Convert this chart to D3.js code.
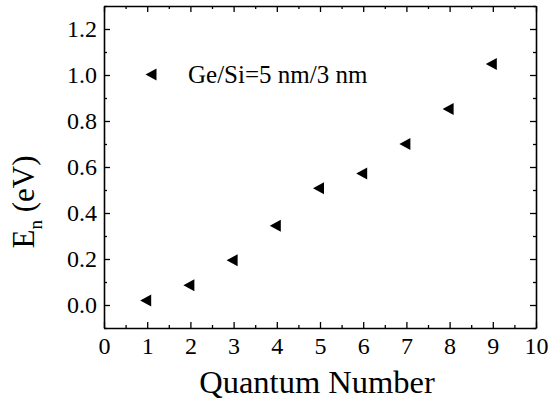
<!DOCTYPE html>
<html><head><meta charset="utf-8">
<script src="https://cdn.jsdelivr.net/npm/d3@7"></script>
<style>body{margin:0;background:#fff}svg{display:block}svg text{font-family:"Liberation Serif","Times New Roman",serif !important;fill:#000}</style>
</head><body>
<svg id="c" width="550" height="402"></svg>
<script>
const quantumNumbers = [1,2,3,4,5,6,7,8,9];
const energies = [0.02,0.086,0.195,0.345,0.508,0.572,0.70,0.852,1.048];
const xTicks = [0,1,2,3,4,5,6,7,8,9,10];
const yTicks = [0.0,0.2,0.4,0.6,0.8,1.0,1.2];
const legendLabel = "Ge/Si=5 nm/3 nm";

const svg = d3.select("#c");
const L=104,R=536,T=6,B=328;
const x = d3.scaleLinear().domain([0,10]).range([L,R]);
const y = d3.scaleLinear().domain([-0.1,1.3]).range([B,T]);

const xMinor = d3.range(0,10.01,0.5).filter(v=>Math.abs(v-Math.round(v))>0.01);
const yMinor = d3.range(-0.1,1.31,0.1).map(v=>+v.toFixed(2)).filter(v=>Math.abs(v*5-Math.round(v*5))>0.01);

function styleAxis(g){g.attr("font-family",null);g.selectAll("path").attr("stroke","#000").attr("stroke-width",1.6);g.selectAll("line").attr("stroke","#000").attr("stroke-width",1.3);}

// bottom
svg.append("g").attr("transform",`translate(0,${B})`)
  .call(d3.axisBottom(x).tickValues(xTicks).tickSizeInner(-6).tickSizeOuter(0).tickPadding(9).tickFormat(d3.format("d")))
  .call(styleAxis).call(g=>g.selectAll("text").attr("font-size",24));
svg.append("g").attr("transform",`translate(0,${B})`)
  .call(d3.axisBottom(x).tickValues(xMinor).tickSize(-3).tickFormat(""))
  .call(styleAxis).call(g=>g.select("path").remove());
// top
svg.append("g").attr("transform",`translate(0,${T})`)
  .call(d3.axisTop(x).tickValues(xTicks).tickSizeInner(-6).tickSizeOuter(0).tickFormat(""))
  .call(styleAxis);
svg.append("g").attr("transform",`translate(0,${T})`)
  .call(d3.axisTop(x).tickValues(xMinor).tickSize(-3).tickFormat(""))
  .call(styleAxis).call(g=>g.select("path").remove());
// left
svg.append("g").attr("transform",`translate(${L},0)`)
  .call(d3.axisLeft(y).tickValues(yTicks).tickSizeInner(-6).tickSizeOuter(0).tickPadding(7).tickFormat(d3.format(".1f")))
  .call(styleAxis).call(g=>g.selectAll("text").attr("font-size",24));
svg.append("g").attr("transform",`translate(${L},0)`)
  .call(d3.axisLeft(y).tickValues(yMinor).tickSize(-3).tickFormat(""))
  .call(styleAxis).call(g=>g.select("path").remove());
// right
svg.append("g").attr("transform",`translate(${R},0)`)
  .call(d3.axisRight(y).tickValues(yTicks).tickSizeInner(-6).tickSizeOuter(0).tickFormat(""))
  .call(styleAxis);
svg.append("g").attr("transform",`translate(${R},0)`)
  .call(d3.axisRight(y).tickValues(yMinor).tickSize(-3).tickFormat(""))
  .call(styleAxis).call(g=>g.select("path").remove());

// markers
const tri = "M-6,0L5,-6L5,6Z";
svg.append("g").selectAll("path").data(quantumNumbers).join("path")
  .attr("d",tri).attr("fill","#000")
  .attr("transform",(d,i)=>`translate(${x(d)-1},${y(energies[i])})`);

// legend
svg.append("path").attr("d",tri).attr("fill","#000").attr("transform",`translate(${x(1.1)},${y(1.0)-0.5})`);
svg.append("text").attr("x",188).attr("y",y(1.0)+8).attr("font-size",25).text(legendLabel);

// axis titles
svg.append("text").attr("x",(L+R)/2-3).attr("y",393).attr("text-anchor","middle")
  .attr("font-size",32.5).text("Quantum Number");
const yt = svg.append("text").attr("transform",`translate(34,${202}) rotate(-90)`).attr("text-anchor","middle")
  .attr("font-size",31);
yt.append("tspan").text("E");
yt.append("tspan").attr("font-size",19).attr("dy",8).text("n");
yt.append("tspan").attr("dy",-8).text(" (eV)");
</script>
</body></html>
